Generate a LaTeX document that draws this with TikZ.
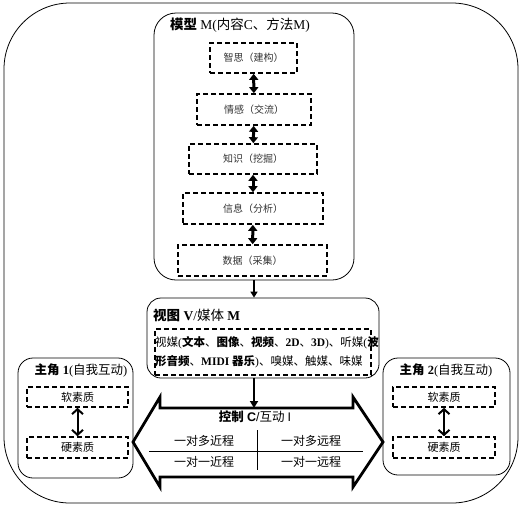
\documentclass[tikz,border=0pt]{standalone}
\usepackage{fontspec}
\setmainfont{Liberation Serif}
\newfontfamily\cjk{Noto Sans CJK SC}
\newfontfamily\arialf{Liberation Sans}
\usetikzlibrary{arrows.meta}
\newcommand{\zh}[1]{{\cjk #1}}
\newcommand{\zhb}[1]{{\cjk\bfseries #1}}
\tikzset{
  frame/.style={draw, line width=0.8pt, inner sep=0pt},
  dbox/.style={draw, line width=1.6pt, dash pattern=on 5pt off 3pt, inner sep=0pt},
  ibox/.style={dbox, font=\cjk\fontsize{10}{12}\selectfont, text=black!80},
  rbox/.style={dbox, font=\cjk\fontsize{11}{13}\selectfont},
  dblarr/.style={line width=3pt, {Triangle[width=9pt,length=6pt]}-{Triangle[width=9pt,length=6pt]}},
  rolearr/.style={line width=2pt, {Straight Barb[width=11pt,length=5pt,line width=2pt]}-{Straight Barb[width=11pt,length=5pt,line width=2pt]}},
  arr/.style={line width=1.8pt, -{Triangle[width=7pt,length=6pt]}},
  bigarr/.style={line width=2.6pt, -{Triangle[width=8pt,length=7pt]}},
  ttl/.style={inner sep=0pt, font=\fontsize{13.5}{15}\selectfont},
  cell/.style={inner sep=0pt, font=\cjk\fontsize{12}{14}\selectfont},
}
\begin{document}
\begin{tikzpicture}[x=1pt,y=-1pt]
\useasboundingbox (0,0) rectangle (526,507);

% outer frame
\node[frame, rounded corners=66pt, minimum width=514pt, minimum height=500pt] (outer) at (261,253) {};

% model
\node[frame, rounded corners=22pt, minimum width=200pt, minimum height=267pt] (model) at (254,146.5) {};
\node[ttl] (mtitle) at (240,25) {\zhb{模型} M(\zh{内容}C\zh{、方法}M)};
\node[ibox, minimum width=87pt, minimum height=30pt] (b1) at (253.5,58) {智思（建构）};
\node[ibox, minimum width=114pt, minimum height=31pt] (b2) at (254,109.5) {情感（交流）};
\node[ibox, minimum width=128pt, minimum height=30pt] (b3) at (253,159) {知识（挖掘）};
\node[ibox, minimum width=140pt, minimum height=31pt] (b4) at (253,208.5) {信息（分析）};
\node[ibox, minimum width=149pt, minimum height=31pt] (b5) at (252.5,260.5) {数据（采集）};
\draw[dblarr] (b1) -- (b2);
\draw[dblarr] (b2) -- (b3);
\draw[dblarr] (b3) -- (b4);
\draw[dblarr] (b4) -- (b5);

% view
\node[frame, rounded corners=14pt, minimum width=232pt, minimum height=80pt] (view) at (263,338) {};
\node[ttl, anchor=west] (vtitle) at (153,315) {\zhb{视图} \textbf{V}/\zh{媒体} \textbf{M}};
\node[dbox, minimum width=216pt, minimum height=46pt] (vbox) at (263,352) {};
\node[inner sep=0pt, anchor=west, align=left, font=\fontsize{11.5}{19}\selectfont] (vtext) at (155,352.5)
 {\zh{视媒}(\zhb{文本}\zh{、}\zhb{图像}\zh{、}\zhb{视频}\zh{、}\textbf{2D}\zh{、}\textbf{3D})\zh{、听媒}(\zhb{波}\\
  \zhb{形音频}\zh{、}\textbf{MIDI} \zhb{器乐})\zh{、嗅媒、触媒、味媒}};
\draw[arr] (model.south) -- (model.south |- view.north);

% control double arrow
\coordinate (ctop) at (254,408);
\draw[line width=2.8pt, line join=miter] (133,442) -- (160,397) -- (160,408) -- (353,408) -- (353,397)
  -- (383,442) -- (353,487) -- (353,477) -- (160,477) -- (160,487) -- cycle;
\draw[bigarr] (view.south -| model.south) -- (ctop);
\node[inner sep=0pt, font=\fontsize{12.5}{14}\selectfont] (ctitle) at (255,417) {\zhb{控制} {\arialf\bfseries C}{\arialf /}\zh{互动} {\arialf I}};
\coordinate (vt) at (257,430);
\coordinate (vb) at (257,470);
\coordinate (hl) at (149,451);
\coordinate (hr) at (363,451);
\draw[line width=0.8pt] (vt) -- (vb);
\draw[line width=0.8pt] (hl) -- (hr);
\node[cell] (c11) at (204,441) {一对多近程};
\node[cell] (c12) at (311,441) {一对多远程};
\node[cell] (c21) at (204,462) {一对一近程};
\node[cell] (c22) at (311,462) {一对一远程};

% role 1
\node[frame, rounded corners=15pt, minimum width=115pt, minimum height=120pt] (r1) at (75.5,418) {};
\node[ttl, font=\fontsize{12.5}{14}\selectfont] (r1t) at (81,370) {\zhb{主角} \textbf{1}(\zh{自我互动})};
\node[rbox, minimum width=101pt, minimum height=20pt] (r1s) at (77.5,397) {软素质};
\node[rbox, minimum width=101pt, minimum height=21pt] (r1h) at (77.5,447.5) {硬素质};
\draw[rolearr] (r1s) -- (r1h);

% role 2
\node[frame, rounded corners=15pt, minimum width=127pt, minimum height=117pt] (r2) at (446.5,416.5) {};
\node[ttl, font=\fontsize{12.5}{14}\selectfont] (r2t) at (446,370) {\zhb{主角} \textbf{2}(\zh{自我互动})};
\node[rbox, minimum width=102pt, minimum height=20pt] (r2s) at (444,397) {软素质};
\node[rbox, minimum width=102pt, minimum height=21pt] (r2h) at (444,447.5) {硬素质};
\draw[rolearr] (r2s) -- (r2h);
\end{tikzpicture}
\end{document}
